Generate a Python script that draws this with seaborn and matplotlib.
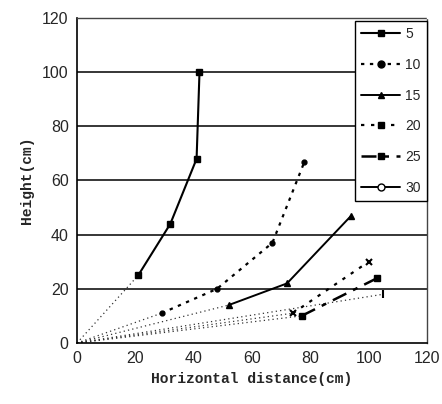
import matplotlib
matplotlib.use("Agg")
import matplotlib.pyplot as plt
import seaborn as sns
import pandas as pd
from matplotlib.lines import Line2D

sns.set_style("white")
plt.rcParams['font.family'] = ['Liberation Sans', 'DejaVu Sans']

series_names = ["5", "10", "15", "20", "25", "30"]
x_5 = [21, 32, 41, 42]
y_5 = [25, 44, 68, 100]
x_10 = [29, 48, 67, 78]
y_10 = [11, 20, 37, 67]
x_15 = [52, 72, 94]
y_15 = [14, 22, 47]
x_20 = [74, 100]
y_20 = [11, 30]
x_25 = [77, 103]
y_25 = [10, 24]
x_30 = [105]
y_30 = [18]

xs = [x_5, x_10, x_15, x_20, x_25, x_30]
ys = [y_5, y_10, y_15, y_20, y_25, y_30]

styles = {
    "5": dict(ls='-', marker='s', ms=5, mfc='black', lw=1.5),
    "10": dict(ls=(0, (1.5, 2.5)), marker='o', ms=3.5, mfc='black', lw=1.6),
    "15": dict(ls='-', marker='^', ms=5, mfc='black', lw=1.4),
    "20": dict(ls=(0, (1.5, 3)), marker='x', ms=5, mfc='black', lw=1.6, mew=1.5),
    "25": dict(ls=(0, (6, 3, 2, 3)), marker='s', ms=4, mfc='black', lw=1.8),
    "30": dict(ls='-', marker='|', ms=6, mfc='white', lw=1.4, mew=1.5),
}
legend_markers = {"5": 's', "10": 'o', "15": '^', "20": 's', "25": 's', "30": 'o'}

rows = []
for name, xv, yv in zip(series_names, xs, ys):
    for a, b in zip(xv, yv):
        rows.append(dict(series=name, x=a, y=b))
df = pd.DataFrame(rows)

fig = plt.figure(figsize=(4.42, 4.04), dpi=100)
ax = fig.add_axes([77/442, 61/404, 350/442, 325/404])

# dotted connectors from origin to first point
for name, xv, yv in zip(series_names, xs, ys):
    conn = pd.DataFrame(dict(x=[0, xv[0]], y=[0, yv[0]]))
    sns.lineplot(data=conn, x='x', y='y', ax=ax, color='#333333', lw=0.9,
                 linestyle=(0, (1, 2.5)), estimator=None, sort=False, legend=False)

for name in series_names:
    sub = df[df.series == name]
    st = styles[name]
    sns.lineplot(data=sub, x='x', y='y', ax=ax, color='black', lw=st['lw'],
                 linestyle=st['ls'], marker=st['marker'], markersize=st['ms'],
                 markerfacecolor=st['mfc'], markeredgecolor='black',
                 markeredgewidth=st.get('mew', 1), estimator=None, sort=False,
                 legend=False)

ax.set_xlim(0, 120)
ax.set_ylim(0, 120)
ax.set_xticks(range(0, 121, 20))
ax.set_yticks(range(0, 121, 20))
ax.tick_params(axis='both', labelsize=11.5, length=0, pad=6)
for y in range(20, 101, 20):
    ax.axhline(y, color='black', lw=1.1, zorder=0)

for side in ['left', 'bottom']:
    ax.spines[side].set_color('black')
    ax.spines[side].set_linewidth(1.2)
for side in ['top', 'right']:
    ax.spines[side].set_color('#444444')
    ax.spines[side].set_linewidth(1.0)
    ax.spines[side].set_linestyle((0, (1, 1)))

ax.set_xlabel("Horizontal distance(cm)", fontsize=10.5, fontweight='bold',
              family=['Liberation Mono', 'DejaVu Sans Mono'], labelpad=4)
ax.set_ylabel("Height(cm)", fontsize=10.5, fontweight='bold',
              family=['Liberation Mono', 'DejaVu Sans Mono'], labelpad=6)

handles = []
for name in series_names:
    st = styles[name]
    handles.append(Line2D([], [], color='black', lw=st['lw'], linestyle=st['ls'],
                          marker=legend_markers[name], markersize=5,
                          markerfacecolor=('white' if name == "30" else 'black'),
                          markeredgecolor='black'))
leg = ax.legend(handles, series_names, loc='upper right', bbox_to_anchor=(1.0, 0.991),
                fontsize=10, frameon=True, fancybox=False, labelspacing=1.2,
                handlelength=2.8, handletextpad=0.35, borderpad=0.45,
                borderaxespad=0.0, framealpha=1.0)
leg.get_frame().set_edgecolor('black')
leg.get_frame().set_linewidth(1.0)

fig.savefig("out.png", dpi=100)
